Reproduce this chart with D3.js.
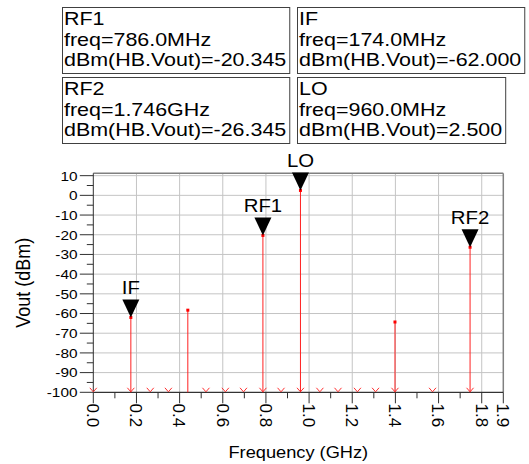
<!DOCTYPE html>
<html>
<head>
<meta charset="utf-8">
<script src="https://cdn.jsdelivr.net/npm/d3@7/dist/d3.min.js"></script>
<style>
  html, body { margin: 0; padding: 0; background: #fff; }
  svg { display: block; font-family: "Liberation Sans", Arial, sans-serif; }
</style>
</head>
<body>
<svg id="chart" width="529" height="464"></svg>
<script>
// spectrum stems (GHz, dBm)
var stemFreq = [0.174, 0.438, 0.786, 0.960, 1.398, 1.746];
var stemVal = [-62.0, -58.3, -20.345, 2.5, -64.3, -26.345];
// mixing products that fall below the axis floor (clipped, drawn as "v")
var floorFreq = [0, 0.174, 0.264, 0.348, 0.522, 0.612, 0.696, 0.786, 0.870, 0.960,
                 1.050, 1.134, 1.224, 1.308, 1.398, 1.572, 1.746];
// markers
var markName = ["RF1", "IF", "RF2", "LO"];
var markFreq = [0.786, 0.174, 1.746, 0.960];
var markFreqText = ["786.0MHz", "174.0MHz", "1.746GHz", "960.0MHz"];
var markVal = [-20.345, -62.0, -26.345, 2.5];
var markValText = ["-20.345", "-62.000", "-26.345", "2.500"];
// axes
var xTicks = [0, 0.2, 0.4, 0.6, 0.8, 1.0, 1.2, 1.4, 1.6, 1.8, 1.9];
var xMinor = [0.1, 0.3, 0.5, 0.7, 0.9, 1.1, 1.3, 1.5, 1.7];
var yTicks = [10, 0, -10, -20, -30, -40, -50, -60, -70, -80, -90, -100];
var yMinor = [5, -5, -15, -25, -35, -45, -55, -65, -75, -85, -95];

var svg = d3.select("#chart");
var pL = 93.3, pR = 503.3, pT = 173.3, pB = 392.3;
var x = d3.scaleLinear().domain([0, 1.9]).range([pL, pR]);
var y = d3.scaleLinear().domain([-100, 11.2]).range([pB, pT]);
var SX = 1.14; // text in the picture is stretched sideways

// marker boxes
var boxX = [62.5, 297.5], boxY = [7.5, 77.5];
markName.forEach(function (name, i) {
  var bx = boxX[i % 2], by = boxY[Math.floor(i / 2)];
  var g = svg.append("g");
  var lines = [name, "freq=" + markFreqText[i], "dBm(HB.Vout)=" + markValText[i]];
  var w = 0;
  lines.forEach(function (s, k) {
    var t = g.append("text")
      .attr("transform", "translate(" + (bx + 1.5) + "," + (by + 17.5 + k * 20.7) + ") scale(1.16,1)")
      .attr("font-size", 18.5).attr("fill", "#000").text(s);
    w = Math.max(w, t.node().getComputedTextLength() * 1.16);
  });
  g.insert("rect", "text").attr("x", bx).attr("y", by)
    .attr("width", Math.min(w + 5, 529 - bx)).attr("height", 66)
    .attr("fill", "none").attr("stroke", "#404040").attr("stroke-width", 1);
});

// grid
svg.append("g").selectAll("line").data(xTicks.filter(function (d) { return d > 0 && d < 1.9; }))
  .enter().append("line")
  .attr("x1", function (d) { return x(d); }).attr("x2", function (d) { return x(d); })
  .attr("y1", pT).attr("y2", pB).attr("stroke", "#c4c4c4");
svg.append("g").selectAll("line").data(yTicks.filter(function (d) { return d > -100; }))
  .enter().append("line")
  .attr("x1", pL).attr("x2", pR)
  .attr("y1", function (d) { return y(d); }).attr("y2", function (d) { return y(d); })
  .attr("stroke", "#c4c4c4");

// frame
svg.append("line").attr("x1", pL).attr("x2", pR).attr("y1", pT).attr("y2", pT)
  .attr("stroke", "#808080").attr("stroke-width", 1.5);
svg.append("line").attr("x1", pR).attr("x2", pR).attr("y1", pT).attr("y2", pB)
  .attr("stroke", "#808080").attr("stroke-width", 1.5);

// y axis
var ya = svg.append("g");
ya.append("line").attr("x1", pL).attr("x2", pL).attr("y1", pT).attr("y2", pB)
  .attr("stroke", "#303030");
ya.selectAll(".maj").data(yTicks).enter().append("line")
  .attr("x1", pL - 13.5).attr("x2", pL)
  .attr("y1", function (d) { return y(d); }).attr("y2", function (d) { return y(d); })
  .attr("stroke", "#303030");
ya.selectAll(".min").data(yMinor).enter().append("line")
  .attr("x1", pL - 6.5).attr("x2", pL)
  .attr("y1", function (d) { return y(d); }).attr("y2", function (d) { return y(d); })
  .attr("stroke", "#303030");
ya.selectAll("text").data(yTicks).enter().append("text")
  .attr("transform", function (d) { return "translate(77.5," + y(d) + ") scale(" + SX + ",1)"; })
  .attr("dy", "0.36em").attr("text-anchor", "end").attr("font-size", 13.5)
  .text(function (d) { return d; });

// x axis
var xa = svg.append("g");
xa.append("line").attr("x1", pL).attr("x2", pR).attr("y1", pB).attr("y2", pB)
  .attr("stroke", "#000");
xa.selectAll(".maj").data(xTicks).enter().append("line")
  .attr("x1", function (d) { return x(d); }).attr("x2", function (d) { return x(d); })
  .attr("y1", pB).attr("y2", pB + 11).attr("stroke", "#303030");
xa.selectAll(".min").data(xMinor).enter().append("line")
  .attr("x1", function (d) { return x(d); }).attr("x2", function (d) { return x(d); })
  .attr("y1", pB).attr("y2", pB + 6).attr("stroke", "#303030");
xa.selectAll("text").data(xTicks).enter().append("text")
  .attr("transform", function (d) { return "translate(" + x(d) + ",403.5) rotate(90)"; })
  .attr("dy", "0.36em").attr("font-size", 17)
  .text(function (d) { return d3.format(".1f")(d); });

// axis titles
svg.append("text")
  .attr("transform", "translate(" + (pL + pR) / 2 + ",458) scale(" + SX + ",1)")
  .attr("text-anchor", "middle").attr("font-size", 16).text("Frequency (GHz)");
svg.append("text")
  .attr("transform", "translate(29.5," + (pT + pB) / 2 + ") scale(" + SX + ",1) rotate(-90)")
  .attr("text-anchor", "middle").attr("font-size", 18).text("Vout (dBm)");

// clipped products
svg.append("g").selectAll("path").data(floorFreq).enter().append("path")
  .attr("d", function (d) {
    var cx = x(d), cy = y(-100);
    return "M" + (cx - 3.5) + "," + (cy - 4.5) + "L" + cx + "," + (cy - 0.5) + "L" + (cx + 3.5) + "," + (cy - 4.5);
  })
  .attr("fill", "none").attr("stroke", "#ff3030").attr("stroke-width", 1);

// stems
var st = svg.append("g");
st.selectAll("line").data(stemFreq).enter().append("line")
  .attr("x1", function (d) { return x(d); }).attr("x2", function (d) { return x(d); })
  .attr("y1", function (d, i) { return y(stemVal[i]); }).attr("y2", pB)
  .attr("stroke", "#ff2020").attr("stroke-width", 1);
st.selectAll("rect").data(stemFreq).enter().append("rect")
  .attr("x", function (d) { return x(d) - 1.5; })
  .attr("y", function (d, i) { return y(stemVal[i]) - 1.5; })
  .attr("width", 3).attr("height", 3).attr("fill", "#ff0000");

// marker triangles + names
var mk = svg.append("g");
markName.forEach(function (name, i) {
  var cx = x(markFreq[i]), cy = y(markVal[i]);
  mk.append("path")
    .attr("d", "M" + cx + "," + cy + "L" + (cx - 8.5) + "," + (cy - 18) + "L" + (cx + 8.5) + "," + (cy - 18) + "Z")
    .attr("fill", "#000");
  mk.append("text")
    .attr("transform", "translate(" + cx + "," + (cy - 23) + ") scale(1.1,1)")
    .attr("text-anchor", "middle").attr("font-size", 18.5).text(name);
});
</script>
</body>
</html>
